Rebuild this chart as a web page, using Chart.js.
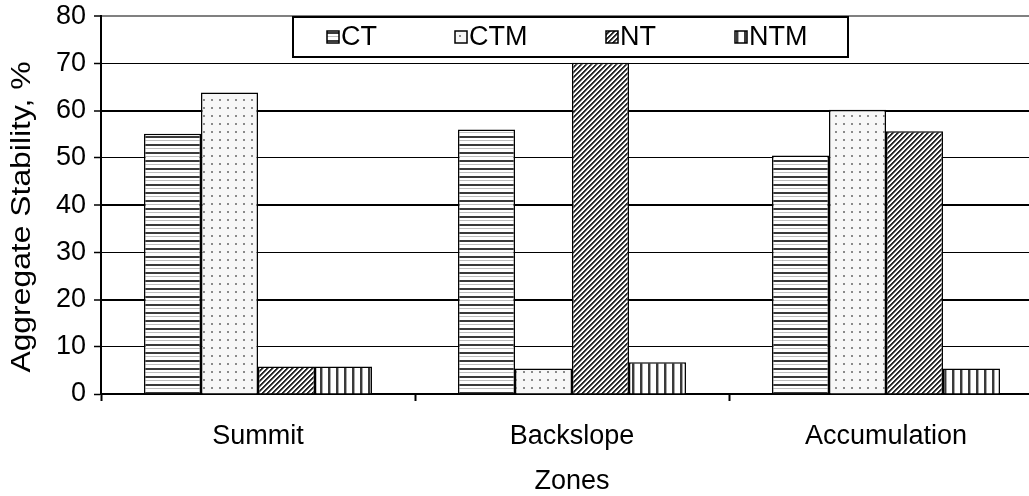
<!DOCTYPE html>
<html>
<head>
<meta charset="utf-8">
<title>Aggregate Stability by Zone</title>
<script src="https://cdn.jsdelivr.net/npm/chart.js@4.4.1/dist/chart.umd.min.js"></script>
<style>
  html, body { margin: 0; padding: 0; background: #fff; overflow: hidden; }
  #wrap { position: absolute; left: 0; top: 0; width: 1060px; height: 496px; }
</style>
</head>
<body>
<div id="wrap"><canvas id="stabilityChart" width="1060" height="496"></canvas></div>
<script>
const zones = ["Summit", "Backslope", "Accumulation"];
const seriesNames = ["CT", "CTM", "NT", "NTM"];
const ctValues = [55.1, 56.0, 50.5];
const ctmValues = [63.8, 5.4, 60.2];
const ntValues = [5.8, 70.1, 55.6];
const ntmValues = [5.8, 6.7, 5.4];
const yMin = 0;
const yMax = 80;
const yStep = 10;
const yTitle = "Aggregate Stability, %";
const xTitle = "Zones";

const FONT = "'Liberation Sans', Arial, sans-serif";
const FSIZE = 27;
const canvas = document.getElementById("stabilityChart");
const mainCtx = canvas.getContext("2d");

// small tiles used as fill patterns
const makePattern = (size, draw) => {
  const tile = document.createElement("canvas");
  tile.width = size;
  tile.height = size;
  const g = tile.getContext("2d");
  g.fillStyle = "#fff";
  g.fillRect(0, 0, size, size);
  draw(g, size);
  return mainCtx.createPattern(tile, "repeat");
};

const horizontalLines = makePattern(8, (g) => {
  g.fillStyle = "#3a3a3a";
  g.fillRect(0, 0, 8, 2);
  g.fillStyle = "#bdbdbd";
  g.fillRect(0, 4, 8, 1);
});

const dots = makePattern(8, (g) => {
  g.fillStyle = "#f7f7f7";
  g.fillRect(0, 0, 8, 8);
  g.fillStyle = "#8a8a8a";
  g.fillRect(3, 3, 2, 2);
});

const diagonal = makePattern(5, (g, s) => {
  for (let i = 0; i < s; i++) {
    const y = s - 1 - i;
    g.fillStyle = "#2a2a2a";
    g.fillRect(i, y, 1, 1);
    g.fillRect(i, (y + 1) % s, 1, 1);
    g.fillStyle = "#8c8c8c";
    g.fillRect(i, (y + 2) % s, 1, 1);
  }
});

const verticalLines = makePattern(8, (g) => {
  g.fillStyle = "#3a3a3a";
  g.fillRect(0, 0, 2, 8);
  g.fillStyle = "#a8a8a8";
  g.fillRect(2, 0, 1, 8);
});

const legendX = [327, 455, 606, 735];

const legendBox = {
  id: "legendBox",
  afterDraw(chart) {
    const ctx = chart.ctx;
    ctx.save();
    ctx.fillStyle = "#fff";
    ctx.fillRect(293, 17, 555, 40);
    ctx.lineWidth = 2;
    ctx.strokeStyle = "#000";
    ctx.strokeRect(293, 17, 555, 40);
    chart.data.datasets.forEach((ds, i) => {
      const x = legendX[i];
      ctx.fillStyle = ds.backgroundColor;
      ctx.fillRect(x, 31, 12, 12);
      ctx.lineWidth = 1.5;
      ctx.strokeRect(x, 31, 12, 12);
      ctx.fillStyle = "#000";
      ctx.font = FSIZE + "px " + FONT;
      ctx.textBaseline = "middle";
      ctx.fillText(ds.label, x + 14, 38);
    });
    ctx.restore();
  },
};

// the y title in the original is a bit stretched along its length
const yTitleDraw = {
  id: "yTitleDraw",
  afterDraw(chart) {
    const ctx = chart.ctx;
    const area = chart.chartArea;
    ctx.save();
    ctx.translate(23, (area.top + area.bottom) / 2 + 12);
    ctx.rotate(-Math.PI / 2);
    ctx.scale(1.18, 1);
    ctx.font = FSIZE + "px " + FONT;
    ctx.fillStyle = "#000";
    ctx.textAlign = "center";
    ctx.textBaseline = "middle";
    ctx.fillText(yTitle, 0, 0);
    ctx.restore();
  },
};

const barStyle = { borderColor: "#000", borderWidth: 1.5 };

new Chart(canvas, {
  type: "bar",
  data: {
    labels: zones,
    datasets: [
      { label: seriesNames[0], data: ctValues, backgroundColor: horizontalLines, ...barStyle },
      { label: seriesNames[1], data: ctmValues, backgroundColor: dots, ...barStyle },
      { label: seriesNames[2], data: ntValues, backgroundColor: diagonal, ...barStyle },
      { label: seriesNames[3], data: ntmValues, backgroundColor: verticalLines, ...barStyle },
    ],
  },
  options: {
    responsive: false,
    animation: false,
    layout: { padding: { top: 14, right: 17, left: 0, bottom: 0 } },
    datasets: { bar: { categoryPercentage: 0.726, barPercentage: 1 } },
    plugins: {
      legend: { display: false },
      tooltip: { enabled: false },
    },
    scales: {
      x: {
        grid: { drawOnChartArea: false, drawTicks: true, tickLength: 7, tickColor: "#000", tickWidth: 2 },
        border: { color: "#000", width: 2 },
        ticks: { color: "#000", font: { family: FONT, size: FSIZE }, padding: 19 },
        title: {
          display: true,
          text: xTitle,
          color: "#000",
          font: { family: FONT, size: FSIZE, lineHeight: 1.1 },
          padding: { top: 0, bottom: 0 },
        },
        afterFit: (scale) => { scale.height = 102; },
      },
      y: {
        min: yMin,
        max: yMax,
        ticks: { stepSize: yStep, color: "#000", font: { family: FONT, size: FSIZE, lineHeight: 0.6 }, padding: 8 },
        grid: {
          color: (c) => (c.tick && c.tick.value === yMax ? "#808080" : "#000"),
          lineWidth: (c) => (c.tick && c.tick.value % 20 === 0 && c.tick.value > 0 ? 2 : 1),
          tickLength: 7,
          tickColor: "#000",
          tickWidth: 1.5,
        },
        border: { color: "#000", width: 2 },
        title: { display: false, text: yTitle },
        afterFit: (scale) => { scale.width = 101; },
      },
    },
  },
  plugins: [legendBox, yTitleDraw],
});
</script>
</body>
</html>
